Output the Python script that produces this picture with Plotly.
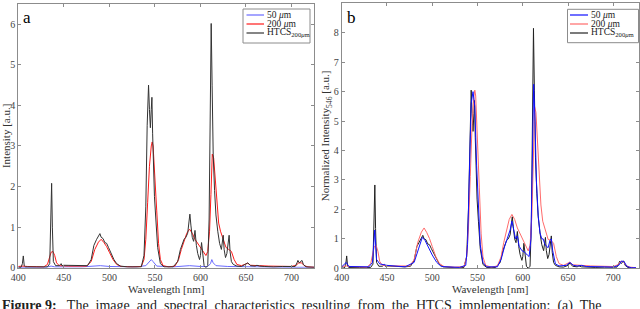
import plotly.graph_objects as go

# ---------------- Panel a: raw intensity ----------------
wl_a_htcs = [400, 403, 404.5, 405.5, 406.5, 408, 420, 432, 434.5, 435.8, 436.6, 437.4, 438.5, 441, 445, 447, 448, 450,
             460, 470, 476, 480, 483, 486, 488, 489.6, 491, 493, 495, 497, 499, 502, 505, 508, 512, 520, 530, 535, 538,
             540, 541.5, 543, 544, 545, 546, 546.7, 547.5, 548.5, 549.5, 551, 553, 556, 560, 570, 575, 578, 580, 582,
             584, 586, 587.5, 588.4, 589.5, 591, 592.5, 594, 595.5, 597, 599, 600, 601.2, 602.5, 604, 606, 608, 609.5,
             610.5, 611.8, 612.8, 614, 615.5, 617, 619, 621, 623, 624, 625, 626, 627.5, 629, 630.5, 631.5, 632.5, 634,
             636, 640, 645, 650, 652, 655, 660, 662, 665, 670, 680, 690, 700, 704, 706, 707, 708.5, 710, 711.5, 713,
             716, 725]
int_a_htcs = [0.01, 0.01, 0.1, 0.29, 0.05, 0.02, 0.02, 0.02, 0.1, 1.2, 2.08, 1.0, 0.15, 0.05, 0.05, 0.1, 0.05, 0.06,
              0.05, 0.04, 0.05, 0.2, 0.55, 0.7, 0.78, 0.84, 0.75, 0.72, 0.62, 0.6, 0.5, 0.35, 0.2, 0.1, 0.04, 0.02,
              0.01, 0.02, 0.3, 1.5, 3.5, 4.5, 3.9, 3.45, 3.9, 4.2, 3.3, 2.2, 1.75, 1.2, 0.5, 0.1, 0.02, 0.02, 0.15,
              0.45, 0.6, 0.7, 0.75, 0.85, 1.15, 1.32, 1.05, 0.75, 0.65, 0.92, 0.55, 0.35, 0.2, 0.3, 0.62, 0.3, 0.05,
              0.0, 0.05, 1.2, 3.8, 6.02, 4.5, 2.8, 1.9, 1.3, 0.9, 0.6, 0.45, 0.6, 0.8, 0.45, 0.25, 0.35, 0.75, 0.8,
              0.4, 0.15, 0.08, 0.04, 0.03, 0.08, 0.12, 0.05, 0.04, 0.06, 0.04, 0.03, 0.02, 0.03, 0.02, 0.03, 0.12,
              0.18, 0.12, 0.15, 0.18, 0.08, 0.02, 0.01]

wl_a_200 = [400, 405, 410, 420, 428, 432, 434, 436, 438, 440, 442, 445, 455, 465, 475, 480, 484, 488, 491, 494, 497,
            500, 504, 508, 513, 525, 535, 538, 540, 542, 544, 546, 547, 548, 550, 552, 554, 556, 559, 565, 572, 576,
            579, 582, 585, 588, 591, 594, 597, 600, 603, 606, 608, 610, 611.5, 613, 614.5, 616, 618, 620, 622, 625,
            628, 631, 634, 637, 640, 645, 650, 652, 655, 660, 665, 675, 690, 700, 705, 708, 711, 714, 718, 725]
int_a_200 = [0.03, 0.04, 0.03, 0.02, 0.02, 0.08, 0.25, 0.38, 0.4, 0.3, 0.12, 0.05, 0.04, 0.04, 0.04, 0.15, 0.45,
             0.63, 0.7, 0.62, 0.52, 0.38, 0.2, 0.08, 0.03, 0.02, 0.03, 0.2, 0.7, 1.6, 2.5, 3.0, 3.1, 3.0, 2.3, 1.4,
             0.6, 0.2, 0.05, 0.02, 0.04, 0.2, 0.45, 0.65, 0.85, 0.95, 0.85, 0.7, 0.6, 0.5, 0.4, 0.3, 0.4, 0.9, 1.8,
             2.8, 2.7, 2.2, 1.5, 1.1, 0.9, 0.7, 0.5, 0.45, 0.4, 0.2, 0.08, 0.05, 0.08, 0.11, 0.06, 0.05, 0.05, 0.04,
             0.04, 0.03, 0.06, 0.12, 0.12, 0.05, 0.02, 0.01]

wl_a_50 = [400, 430, 436, 440, 470, 480, 490, 500, 530, 540, 544, 546, 548, 552, 570, 588, 600, 608, 611, 612.5, 614,
           617, 630, 650, 700, 725]
int_a_50 = [0.01, 0.01, 0.04, 0.02, 0.02, 0.03, 0.05, 0.03, 0.02, 0.05, 0.15, 0.2, 0.15, 0.04, 0.02, 0.05, 0.03,
            0.03, 0.1, 0.2, 0.12, 0.05, 0.03, 0.02, 0.01, 0.01]

# ---------------- Panel b: normalized at 546 nm ----------------
wl_b_htcs = wl_a_htcs
int_b_htcs = [0.01, 0.01, 0.14, 0.42, 0.07, 0.03, 0.03, 0.03, 0.14, 1.6, 2.83, 1.35, 0.2, 0.07, 0.07, 0.13, 0.07, 0.08,
              0.07, 0.05, 0.07, 0.27, 0.74, 0.94, 1.05, 1.12, 1.0, 0.97, 0.83, 0.8, 0.67, 0.47, 0.27, 0.13, 0.05, 0.03,
              0.01, 0.03, 0.4, 2.0, 4.7, 6.05, 5.25, 4.65, 5.25, 5.7, 4.45, 2.95, 2.35, 1.6, 0.67, 0.13, 0.03, 0.03,
              0.2, 0.6, 0.8, 0.94, 1.0, 1.14, 1.55, 1.75, 1.41, 1.0, 0.87, 1.25, 0.74, 0.47, 0.27, 0.4, 0.85, 0.4,
              0.07, 0.0, 0.07, 1.6, 5.1, 8.15, 6.05, 3.75, 2.55, 1.75, 1.2, 0.8, 0.6, 0.8, 1.05, 0.6, 0.33, 0.47,
              1.0, 1.1, 0.54, 0.2, 0.1, 0.05, 0.04, 0.1, 0.18, 0.07, 0.05, 0.08, 0.05, 0.04, 0.03, 0.04, 0.03, 0.04,
              0.16, 0.24, 0.16, 0.2, 0.25, 0.1, 0.03, 0.01]

wl_b_200 = wl_a_200
int_b_200 = [0.06, 0.08, 0.06, 0.04, 0.04, 0.16, 0.49, 0.74, 0.78, 0.58, 0.23, 0.1, 0.08, 0.08, 0.08, 0.29, 0.88,
             1.23, 1.37, 1.21, 1.01, 0.74, 0.39, 0.16, 0.06, 0.04, 0.06, 0.39, 1.37, 3.12, 4.88, 5.85, 6.05, 5.85,
             4.49, 2.73, 1.17, 0.39, 0.1, 0.04, 0.08, 0.39, 0.88, 1.27, 1.66, 1.83, 1.66, 1.37, 1.17, 0.98, 0.78,
             0.59, 0.78, 1.76, 3.51, 5.5, 5.3, 4.3, 2.93, 2.15, 1.6, 1.3, 0.98, 0.95, 0.85, 0.4, 0.16, 0.1, 0.16,
             0.21, 0.12, 0.1, 0.1, 0.08, 0.08, 0.06, 0.12, 0.23, 0.23, 0.1, 0.04, 0.02]

wl_b_50 = [400, 405, 408, 430, 434, 436.5, 438.5, 442, 450, 470, 480, 485, 489, 492, 496, 500, 505, 510, 530, 537,
           539, 541, 543, 545, 547, 549, 551, 553, 556, 560, 572, 576, 580, 583, 586, 588, 590, 592, 594, 596, 599,
           602, 605, 607, 609, 610.5, 612, 613.5, 615, 617, 619, 621, 622.5, 624, 626, 628, 630, 631.5, 633, 636,
           640, 648, 652, 656, 660, 665, 670, 690, 700, 706, 709, 712, 715, 720, 725]
int_b_50 = [0.05, 0.2, 0.06, 0.05, 0.2, 1.3, 0.3, 0.15, 0.1, 0.05, 0.2, 0.7, 1.05, 0.95, 0.7, 0.45, 0.2, 0.06, 0.03,
            0.1, 0.8, 3.5, 5.6, 6.0, 5.5, 3.5, 1.8, 0.8, 0.2, 0.05, 0.05, 0.3, 0.75, 1.0, 1.3, 1.6, 1.3, 1.0, 1.1,
            0.75, 0.6, 0.55, 0.45, 0.4, 1.0, 3.5, 6.25, 5.0, 3.0, 1.8, 1.2, 1.0, 1.0, 0.85, 0.75, 0.7, 0.95, 1.0,
            0.6, 0.15, 0.08, 0.1, 0.2, 0.1, 0.08, 0.1, 0.06, 0.05, 0.04, 0.1, 0.25, 0.22, 0.06, 0.02, 0.02]

x_ticks = [400, 450, 500, 550, 600, 650, 700]
y_ticks_a = [0, 1, 2, 3, 4, 5, 6]
y_ticks_b = [0, 1, 2, 3, 4, 5, 6, 7, 8, 9]

names = ["50 <i>μ</i>m", "200 <i>μ</i>m", "HTCS<sub>200<i>μ</i>m</sub>"]

SERIF = "Liberation Serif"
AX_COL = "#8c8c8c"
TICK_FONT = dict(family=SERIF, size=10, color="#444444")
W, H = 640, 309

COL_A = ["#6a6aff", "#ff1a1a", "#333333"]
COL_B = ["#1010ff", "#ff6b6b", "#222222"]


def px(x):
    return x / W


def py(y):
    return 1 - y / H


fig = go.Figure()

# panel a traces
fig.add_trace(go.Scatter(x=wl_a_50, y=int_a_50, mode="lines", name=names[0],
                         line=dict(color=COL_A[0], width=1), xaxis="x", yaxis="y"))
fig.add_trace(go.Scatter(x=wl_a_200, y=int_a_200, mode="lines", name=names[1],
                         line=dict(color=COL_A[1], width=1), xaxis="x", yaxis="y"))
fig.add_trace(go.Scatter(x=wl_a_htcs, y=int_a_htcs, mode="lines", name=names[2],
                         line=dict(color=COL_A[2], width=1), xaxis="x", yaxis="y"))

# panel b traces
fig.add_trace(go.Scatter(x=wl_b_htcs, y=int_b_htcs, mode="lines", name=names[2],
                         line=dict(color=COL_B[2], width=1), xaxis="x2", yaxis="y2"))
fig.add_trace(go.Scatter(x=wl_b_200, y=int_b_200, mode="lines", name=names[1],
                         line=dict(color=COL_B[1], width=1), xaxis="x2", yaxis="y2"))
fig.add_trace(go.Scatter(x=wl_b_50, y=int_b_50, mode="lines", name=names[0],
                         line=dict(color=COL_B[0], width=1), xaxis="x2", yaxis="y2"))


def xaxis(domain, rng, anchor):
    return dict(domain=domain, range=rng, anchor=anchor, tickvals=x_ticks, ticks="inside", ticklen=3,
                tickcolor=AX_COL, showline=True, linecolor=AX_COL, linewidth=1, mirror="ticks",
                showgrid=False, zeroline=False, tickfont=TICK_FONT, automargin=False,
                title=dict(text="Wavelength [nm]", font=dict(family=SERIF, size=11, color="#333333"), standoff=2))


def yaxis(domain, rng, anchor, ticks, title):
    return dict(domain=domain, range=rng, anchor=anchor, tickvals=ticks, ticks="inside", ticklen=3,
                tickcolor=AX_COL, showline=True, linecolor=AX_COL, linewidth=1, mirror="ticks",
                showgrid=False, zeroline=False, tickfont=TICK_FONT, automargin=False,
                title=dict(text=title, font=dict(family=SERIF, size=11, color="#333333"), standoff=1))


# compact MATLAB-style legend boxes
shapes = []
annotations = []
legend_boxes = [
    dict(x0=243, x1=310, y0=9, y1=43, lx0=246.5, lx1=264, tx=266, cols=COL_A),
    dict(x0=567.5, x1=638.5, y0=9.3, y1=42.7, lx0=570, lx1=588, tx=590, cols=COL_B),
]
row_y = [15, 24, 33]
for lb in legend_boxes:
    shapes.append(dict(type="rect", xref="paper", yref="paper", x0=px(lb["x0"]), x1=px(lb["x1"]),
                       y0=py(lb["y1"]), y1=py(lb["y0"]), line=dict(color="#8c8c8c", width=1),
                       fillcolor="white", layer="above"))
    for i in range(3):
        shapes.append(dict(type="line", xref="paper", yref="paper", x0=px(lb["lx0"]), x1=px(lb["lx1"]),
                           y0=py(row_y[i]), y1=py(row_y[i]), line=dict(color=lb["cols"][i], width=1.2),
                           layer="above"))
        annotations.append(dict(text=names[i], xref="paper", yref="paper", x=px(lb["tx"]), y=py(row_y[i]),
                                xanchor="left", yanchor="middle", showarrow=False, borderpad=0,
                                font=dict(family=SERIF, size=9.5, color="#222222")))

annotations += [
    dict(text="a", xref="paper", yref="paper", x=px(21), y=py(6), xanchor="left", yanchor="top",
         showarrow=False, font=dict(family=SERIF, size=17, color="black")),
    dict(text="b", xref="paper", yref="paper", x=px(345), y=py(6), xanchor="left", yanchor="top",
         showarrow=False, font=dict(family=SERIF, size=17, color="black")),
    dict(text="<b>Figure 9:</b>   The  image  and  spectral  characteristics  resulting  from  the  HTCS  implementation:  (a)  The",
         xref="paper", yref="paper", x=0.0, y=py(296), xanchor="left", yanchor="top",
         showarrow=False, font=dict(family=SERIF, size=14, color="#222222")),
]

fig.update_layout(
    width=W, height=H,
    margin=dict(l=0, r=0, t=0, b=0, autoexpand=False),
    paper_bgcolor="white", plot_bgcolor="white",
    showlegend=False,
    xaxis=xaxis([px(18.3), px(314.3)], [400, 725], "y"),
    yaxis=yaxis([py(267.7), py(4)], [0, 6.5], "x", y_ticks_a, "Intensity [a.u.]"),
    xaxis2=xaxis([px(341.7), px(638.7)], [400, 728], "y2"),
    yaxis2=yaxis([py(268.3), py(3.3)], [0, 9], "x2", y_ticks_b, "Normalized Intensity<sub>546</sub> [a.u.]"),
    shapes=shapes,
    annotations=annotations,
)

fig.write_html("out.html", config={"displayModeBar": False},
               post_script="document.body.style.margin='0';document.body.style.overflow='hidden';")
